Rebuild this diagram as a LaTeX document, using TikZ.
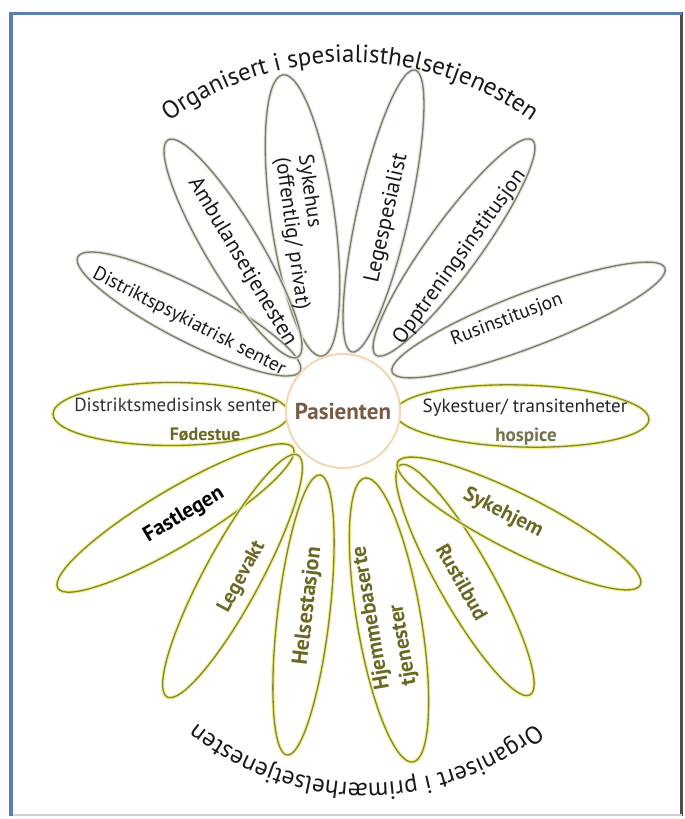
\documentclass[tikz,border=0pt]{standalone}
\usepackage{fontspec}
\setmainfont{PT Sans}
\usetikzlibrary{shapes.geometric,decorations.text}
\definecolor{frameblue}{HTML}{5B7DB1}
\definecolor{greyline}{HTML}{7A7A70}
\definecolor{greyglow}{HTML}{E2E2D6}
\definecolor{oliveline}{HTML}{85853A}
\definecolor{oliveglow}{HTML}{F0F08A}
\definecolor{olivetext}{HTML}{6A6822}
\definecolor{hospicetext}{HTML}{72724C}
\definecolor{browntext}{HTML}{7A5A40}
\definecolor{ringcol}{HTML}{F2D7B2}
\newcommand{\fs}[1]{\fontsize{#1}{#1}\selectfont}
\begin{document}
\begin{tikzpicture}[x=1pt,y=-1pt,
 petalS/.style={ellipse, inner sep=0pt, draw=greyline, line width=1.3pt, preaction={draw=greyglow, line width=3.5pt}},
 petalP/.style={ellipse, inner sep=0pt, draw=oliveline, line width=1.3pt, preaction={draw=oliveglow, line width=3.5pt}},
 labS/.style={text=black!90, inner sep=0pt},
 labP/.style={font=\bfseries, text=olivetext, inner sep=0pt},
 arctext/.style={decorate, decoration={text along path, text align=center, text color=black!90}},
]
\useasboundingbox (0,0) rectangle (685,819);
\fill[white] (0,0) rectangle (685,819);
% frame
\draw[black!70, line width=3pt] (681,12) -- (681,816);
\draw[black!18, line width=2pt] (10,815) -- (682,815);
\draw[frameblue, line width=4pt] (11,12) -- (11,816);
\draw[frameblue, line width=3pt] (10,13) -- (682,13);
% petals: specialist
\node[petalS, minimum width=284pt, minimum height=64pt, rotate=97.9] (sykehus) at (302.5,215.5) {};
\node[petalS, minimum width=289pt, minimum height=52pt, rotate=77.4] (legesp) at (383.5,211) {};
\node[petalS, minimum width=266pt, minimum height=52pt, rotate=54.0] (opptr) at (454,247.5) {};
\node[petalS, minimum width=292pt, minimum height=54pt, rotate=20.9] (rusinst) at (528.5,320) {};
\node[petalS, minimum width=250pt, minimum height=54pt, rotate=-27.2] (dps) at (189,314) {};
\node[petalS, minimum width=253pt, minimum height=54pt, rotate=-59.1] (ambul) at (233,248.5) {};
% petals: primary
\node[petalP, minimum width=254pt, minimum height=62pt, rotate=-1.6] (sykestuer) at (522,416) {};
\node[petalP, minimum width=236pt, minimum height=63pt, rotate=0] (dms) at (171,414) {};
\node[petalP, minimum width=274pt, minimum height=56pt, rotate=30.8] (fastl) at (175.5,518) {};
\node[petalP, minimum width=275pt, minimum height=56pt, rotate=61.6] (legevakt) at (232.5,576) {};
\node[petalP, minimum width=282pt, minimum height=52pt, rotate=83.3] (helsest) at (303.5,615) {};
\node[petalP, minimum width=288pt, minimum height=64pt, rotate=-80.4] (hjemme) at (389,620) {};
\node[petalP, minimum width=264pt, minimum height=54pt, rotate=-60.5] (rustilbud) at (465,580) {};
\node[petalP, minimum width=272pt, minimum height=56pt, rotate=-26.9] (sykehjem) at (519,523.5) {};
% centre
\node[circle, fill=white, draw=ringcol, line width=2pt, minimum size=114pt, inner sep=0pt,
      font=\bfseries\fs{23}, text=browntext] (pas) at (343,411) {Pasienten};
% labels
\node[labS, font=\fontsize{21}{23}\selectfont, rotate=-82.1, align=left] (tsykehus) at (303,232) {Sykehus\\(offentlig/ privat)};
\node[labS, font=\fs{22}, rotate=77.4] (tlegesp) at (387,218) {Legespesialist};
\node[labS, font=\fs{21.5}, rotate=54] (topptr) at (460,257) {Opptreningsinstitusjon};
\node[labS, font=\fs{19.5}, rotate=20.9] (trusinst) at (507,320) {Rusinstitusjon};
\node[labS, font=\fs{19.5}, rotate=-27.2] (tdps) at (189,322) {Distriktspsykiatrisk senter};
\node[labS, font=\fs{22}, rotate=-59.1] (tambul) at (242,262) {Ambulansetjenesten};
\node[labS, font=\fs{19}, text=black!85] (tsykestuer) at (525,408) {Sykestuer/ transitenheter};
\node[labP, font=\bfseries\fs{19}, text=hospicetext] (thospice) at (526,437) {hospice};
\node[labS, font=\fs{19}, text=black!80] (tdms) at (176,405) {Distriktsmedisinsk senter};
\node[labP, font=\bfseries\fs{18}] (tfode) at (205,434) {Fødestue};
\node[labP, font=\bfseries\fs{21.5}, text=black, rotate=30.8] (tfastl) at (184,515) {Fastlegen};
\node[labP, font=\bfseries\fs{20.5}, rotate=61.6] (tlegevakt) at (242,577) {Legevakt};
\node[labP, font=\bfseries\fs{22}, rotate=83.3] (thelsest) at (308,606) {Helsestasjon};
\node[labP, font=\bfseries\fontsize{21.5}{27}\selectfont, rotate=99.6, align=left] (thjemme) at (385,616) {Hjemmebaserte\\tjenester};
\node[labP, font=\bfseries\fs{20.5}, rotate=-60.5] (trustilbud) at (462,582) {Rustilbud};
\node[labP, font=\bfseries\fs{21}, rotate=-26.9] (tsykehjem) at (503,513) {Sykehjem};
% arc texts
\path[arctext, decoration={text={|\fs{25}|Organisert i spesialisthelsetjenesten}}]
  (350,367) ++(-140:305) arc[start angle=-140, end angle=-40, radius=305];
\path[arctext, decoration={text={|\fs{25}|Organisert i primærhelsetjenesten}}]
  (366,513) ++(40:270) arc[start angle=40, end angle=140, radius=270];
\end{tikzpicture}
\end{document}
